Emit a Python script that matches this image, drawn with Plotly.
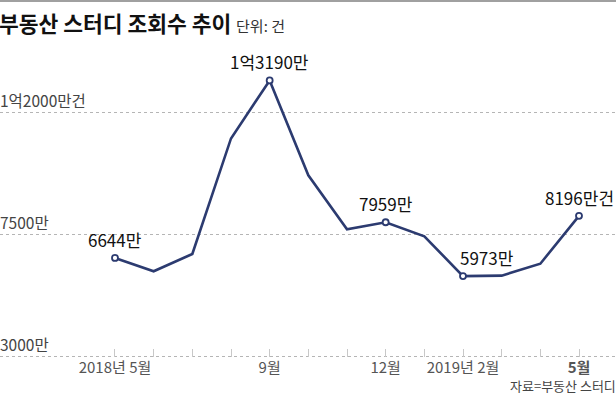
import plotly.graph_objects as go

# Data (unit: 만 건)
months = list(range(13))  # 2018-05 .. 2019-05
month_names = ["2018-05", "2018-06", "2018-07", "2018-08", "2018-09", "2018-10",
               "2018-11", "2018-12", "2019-01", "2019-02", "2019-03", "2019-04", "2019-05"]
views = [6644, 6150, 6790, 11050, 13190, 9690, 7700, 7959, 7440, 5973, 5990, 6430, 8196]

tick_labels = ["2018년 5월", "", "", "", "9월", "", "", "12월", "", "2019년 2월", "", "", "<b>5월</b>"]

y_ticks = [3000, 7500, 12000]
y_tick_labels = ["3000만", "7500만", "1억2000만건"]

labeled_idx = [0, 4, 7, 9, 12]
point_labels = ["6644만", "1억3190만", "7959만", "5973만", "8196만건"]
label_xshift = [0, 0, 0, 24, 0]

NAVY = "#2c3b70"
FONT = "Noto Sans CJK KR, Noto Sans, sans-serif"

fig = go.Figure()

fig.add_trace(go.Scatter(
    x=months, y=views, mode="lines",
    line=dict(color=NAVY, width=2.6),
    hoverinfo="skip", showlegend=False,
))
fig.add_trace(go.Scatter(
    x=[months[i] for i in labeled_idx], y=[views[i] for i in labeled_idx],
    mode="markers",
    marker=dict(size=6, color="white", line=dict(color=NAVY, width=1.8)),
    hoverinfo="skip", showlegend=False,
))

annotations = []
for k, i in enumerate(labeled_idx):
    annotations.append(dict(
        x=months[i], y=views[i], xref="x", yref="y",
        text=point_labels[k], showarrow=False,
        xanchor="center", yanchor="bottom", yshift=4, xshift=label_xshift[k],
        font=dict(family=FONT, size=17, color="#111"),
    ))
for v, t in zip(y_ticks, y_tick_labels):
    annotations.append(dict(
        x=0, xref="paper", y=v, yref="y", text=t, showarrow=False,
        xanchor="left", yanchor="bottom", yshift=0, xshift=-2,
        font=dict(family=FONT, size=15.5, color="#444"),
    ))
annotations.append(dict(
    x=0, xref="paper", y=1, yref="paper", yanchor="top", xanchor="left",
    xshift=-3, yshift=-5,
    text="<b>부동산 스터디 조회수 추이</b> <span style='font-size:15px;color:#333'>단위: 건</span>",
    showarrow=False, font=dict(family=FONT, size=21.5, color="#111"),
))
annotations.append(dict(
    x=1, xref="paper", y=0, yref="paper", yanchor="bottom", xanchor="right",
    yshift=0, xshift=2,
    text="자료=부동산 스터디", showarrow=False,
    font=dict(family=FONT, size=13, color="#444"),
))

# pixel mapping: 3000 -> y=356.7, 12000 -> y=112.7 in 397px
H = 397
ppv = (356.7 - 112.7) / 9000.0
ymin = 3000 - (H - 356.7) / ppv
ymax = 12000 + 112.7 / ppv
xpos = (H - 356.7) / H

fig.update_layout(
    width=616, height=397,
    margin=dict(l=0, r=0, t=0, b=0),
    paper_bgcolor="white", plot_bgcolor="white",
    font=dict(family=FONT),
    annotations=annotations,
    xaxis=dict(
        range=[-2.974, 12.957], tickvals=months, ticktext=tick_labels,
        showgrid=False, zeroline=False, showline=False,
        ticks="inside", ticklen=8, tickcolor="#c8c8c8", tickwidth=1,
        anchor="free", position=xpos,
        tickfont=dict(family=FONT, size=15, color="#555"),
        fixedrange=True,
    ),
    yaxis=dict(
        range=[ymin, ymax], tickvals=y_ticks, showticklabels=False,
        showgrid=True, gridcolor="#b5b5b5", griddash="dot", gridwidth=1,
        zeroline=False, showline=False, fixedrange=True,
    ),
    shapes=[dict(type="line", xref="paper", yref="paper", x0=0, x1=1, y0=1, y1=1,
                 line=dict(color="#a0a0a0", width=4))],
)

fig.write_html("out.html", config={"displayModeBar": False},
               post_script="document.body.style.margin='0';document.body.style.overflow='hidden';")
